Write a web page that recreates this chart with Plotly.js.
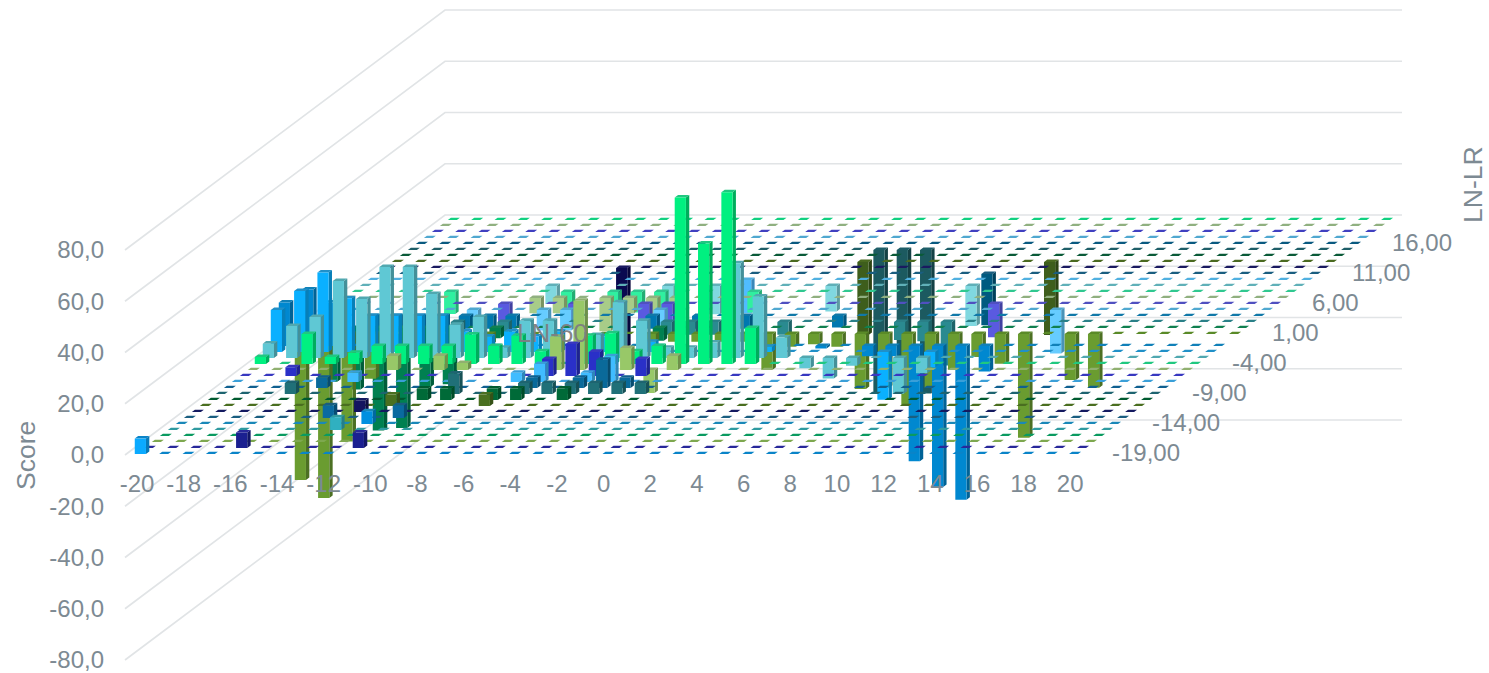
<!DOCTYPE html>
<html>
<head>
<meta charset="utf-8">
<script src="https://cdn.plot.ly/plotly-3.0.1.min.js"></script>
<style>html,body{margin:0;padding:0;background:#fff}#chart{width:1489px;height:673px}</style>
</head>
<body>
<div id="chart"></div>
<script>
// Categories along the two floor axes.
const xValues = [];
for (let v = -20; v <= 20; v++) xValues.push(v);
const xTickValues = [-20,-18,-16,-14,-12,-10,-8,-6,-4,-2,0,2,4,6,8,10,12,14,16,18,20];
const xTickText = xTickValues.map(String);
const scoreTickValues = [-80,-60,-40,-20,0,20,40,60,80];
const scoreTickText = ['-80,0','-60,0','-40,0','-20,0','0,0','20,0','40,0','60,0','80,0'];
const lnLrTickValues = [-19,-14,-9,-4,1,6,11,16];
const lnLrTickText = ['-19,00','-14,00','-9,00','-4,00','1,00','6,00','11,00','16,00'];

// Non-zero scores per LN-LR series, as [x, score].
const lnLrM19 = [[-20,6]];
const lnLrM18 = [[-16,6],[-11,6]];
const lnLrM15 = [[-13,5]];
const lnLrM14 = [[-12,5]];
const lnLrM13 = [[-14,5],[-11,5]];
const lnLrM12 = [[-13,4.5]];
const lnLrM11 = [[-12,4.5],[-8,4.5]];
const lnLrM10 = [[-11,4.5],[-10,4.5],[-8,4.5],[-7,4.5],[-5,4.5]];
const lnLrM9 = [[-17,4.3],[-10,8],[-7,4.3],[-6,4.3],[-5,4.3],[-4,4.3],[-3,4.3],[-2,4.3]];
const lnLrM8 = [[-16,4],[-7,4],[-5,4],[-4,11],[-3,4]];
const lnLrM7 = [[-15,3.6],[-8,3.6],[-7,7],[-5,3.6],[-4,10]];
const lnLrM6 = [[-18,3.4],[-7,6.6],[-6,12.5],[-5,9.4],[-3,6.6]];
const lnLrM5 = [[-14,5.5],[-12,5.5],[-11,2.7],[-7,13],[-6,27],[-4,8.6],[-3,-9],[-2,5.5]];
const lnLrM4 = [[-20,2.7],[-18,11.7],[-17,2.7],[-16,4.4],[-15,7],[-14,7],[-13,7],[-12,7],[-11,11.5],[-10,7],[-9,11],[-8,5],[-6,11],[-5,12],[-4,5],[-3,7],[-2,65],[-1,47],[0,67],[1,14]];
const lnLrM3 = [[-20,5.6],[-19,12.5],[-18,16],[-17,30],[-16,23],[-15,35.5],[-14,35.5],[-13,25],[-12,13],[-11,16],[-10,4],[-9,14.5],[-8,14.5],[-6,9],[-5,21.7],[-4,14.5],[-3,4],[-2,4],[-1,6],[0,37],[1,24],[2,8],[3,-4],[4,-8],[5,-3],[7,-14],[8,-6]];
const lnLrM2 = [[-20,16.4],[-19,23.8],[-18,31],[-17,21],[-16,14],[-15,14],[-14,14],[-13,14],[-12,8],[-11,6],[-10,8],[-9,6],[-8,8],[-6,6],[-4,4],[1,2],[6,-18.6],[8,-6]];
const lnLrM1 = [[-20,17],[-19,22],[-18,17],[3,-1],[5,-4],[6,-4],[7,-45],[8,-55],[9,-60],[10,-10]];
const lnLrP1 = [[-20,-57],[-19,-64],[-18,-42],[-17,-17.5],[-12,-4],[-5,-3],[-4,-3],[-3,-3],[-2,-3],[-1,-3],[0,-14],[1,-5],[2,-4],[3,-5],[4,-21.5],[5,-21],[6,-28],[7,-21],[8,-14],[9,-9],[10,-11.6],[11,-40.5],[13,-18],[14,-21]];
const lnLrP2 = [[-19,-21],[-18,-24],[-17,-40],[-16,-39],[-15,-23],[-14,-22],[-12,-4],[-5,-5]];
const lnLrP3 = [[-14,-8],[-12,-5],[-5,-5],[-4,-5],[-3,-5],[0,-5],[5,-7],[6,-7.5],[7,-17]];
const lnLrP4 = [[-18,-12],[-17,-12],[-16,-12],[-15,-12],[-14,-5],[-13,-5],[-12,-5],[-6,-5],[-4,-5],[-2,-5],[2,-4.5]];
const lnLrP5 = [[-14,-6],[-11,-8],[-10,-8],[-6,-6],[11,-17]];
const lnLrP6 = [[-13,-7],[-10,-7],[-7,-7],[-6,-7],[8,-13]];
const lnLrP7 = [[-12,-6],[-11,-6],[-9,-13],[-8,-6],[-7,-6],[-6,-6]];
const lnLrP8 = [[-16,-8.6],[-11,-8],[-9,-8],[-8,-8],[-7,-8],[-3,-8]];
const lnLrP9 = [[-12,-7],[-7,-7],[-5,-11],[0,-10],[6,-15.6]];
const lnLrP10 = [[-4,-13]];
const lnLrP11 = [[6,-20]];
const lnLrP12 = [[-10,-31]];
const lnLrP13 = [[0,-28.5],[8,-28.5]];
const lnLrP15 = [[0,-56],[1,-56],[2,-56]];

// Series in depth order, nearest the viewer first. LN-LR 0 has no series.
const lnLrSeries = [
  [-19,lnLrM19,'#0AAAFF','#0A84C8'],[-18,lnLrM18,'#1B2090','#28289A'],[-17,[],'#8FC060','#7EA84F'],
  [-16,[],'#00A060','#0A9A60'],[-15,lnLrM15,'#30B0C0','#2F9AA0'],[-14,lnLrM14,'#0090E0','#1A88B8'],
  [-13,lnLrM13,'#0A6AA0','#1A5E80'],[-12,lnLrM12,'#141460','#141A60'],[-11,lnLrM11,'#4A7020','#4A6E20'],
  [-10,lnLrM10,'#006A38','#005A30'],[-9,lnLrM9,'#207078','#1E6470'],[-8,lnLrM8,'#0A6A9A','#106090'],
  [-7,lnLrM7,'#40BCFF','#3A9FD8'],[-6,lnLrM6,'#2A30C8','#3838C0'],[-5,lnLrM5,'#98C868','#90B070'],
  [-4,lnLrM4,'#00F080','#20C880'],[-3,lnLrM3,'#5FC8D4','#50A8B0'],[-2,lnLrM2,'#0AB0FF','#2090C8'],
  [-1,lnLrM1,'#0088D0','#1080B8'],[1,lnLrP1,'#6A9C30','#5A8A28'],[2,lnLrP2,'#008050','#108050'],
  [3,lnLrP3,'#2A8A90','#2A8088'],[4,lnLrP4,'#0078B0','#1078A8'],[5,lnLrP5,'#66CCFF','#50A8D0'],
  [6,lnLrP6,'#5A5AE0','#5050C0'],[7,lnLrP7,'#A8CC88','#90B080'],[8,lnLrP8,'#30F0A0','#30C890'],
  [9,lnLrP9,'#80D8E0','#60B0B8'],[10,lnLrP10,'#50BCFF','#50B0E0'],[11,lnLrP11,'#005A80','#1A5E80'],
  [12,lnLrP12,'#0A0A50','#1A1A60'],[13,lnLrP13,'#3E5E1C','#4A6A20'],[14,[],'#005030','#0A5A38'],
  [15,lnLrP15,'#1C5A60','#1E5E68'],[16,[],'#005070','#0A5A80'],[17,[],'#66CCFF','#50A8D0'],
  [18,[],'#5A5AE0','#4040C0'],[19,[],'#A8CC88','#90B080'],[20,[],'#10E090','#10D080']
];

const textColor = '#7D8A93';
const wallColor = '#E1E4E6';

// Oblique depth: each LN-LR step moves a mark right and up on the plot's axes.
const pxPerX = 23.33, pxPerScore = 2.5625;
const leftPx = 139;
const depthX = 8 / pxPerX, depthY = 6 / pxPerScore;
function project(x, depth, score) {
  return [x + depth * depthX, score + depth * depthY];
}
const depthOf = lnLr => lnLr + 19 + 0.17;

function polygon(points) {
  const xs = [], ys = [];
  points.concat([points[0]]).forEach(p => { const q = project(p[0], p[1], p[2]); xs.push(q[0]); ys.push(q[1]); });
  xs.push(null); ys.push(null);
  return [xs, ys];
}
function shade(hex, k) {
  const n = parseInt(hex.slice(1), 16);
  const c = [n >> 16, (n >> 8) & 255, n & 255].map(v => Math.round(v * k));
  return 'rgb(' + c.join(',') + ')';
}
function fillTrace(polys, color) {
  const x = [], y = [];
  polys.forEach(p => { x.push(...p[0]); y.push(...p[1]); });
  return { type: 'scatter', mode: 'lines', x, y, fill: 'toself', fillcolor: color,
           line: { width: 0, color }, hoverinfo: 'skip', showlegend: false };
}

const traces = [];

// Grid lines on the left and back walls.
const wallX = [], wallY = [];
const wallLeftX = -20 - 14 / pxPerX, wallRightX = -20 + 943 / pxPerX;
scoreTickValues.forEach(s => {
  [[wallLeftX, 0, s], [wallLeftX, 40, s], [wallRightX, 40, s]].forEach(p => {
    const q = project(p[0], p[1], p[2]); wallX.push(q[0]); wallY.push(q[1]);
  });
  wallX.push(null); wallY.push(null);
});
traces.push({ type: 'scatter', mode: 'lines', x: wallX, y: wallY, line: { color: wallColor, width: 1.7 },
              hoverinfo: 'skip', showlegend: false });

// Columns, drawn from the back series to the front one.
const halfW = 5.6 / pxPerX, barDepth = 0.42, dashHalf = 4.5 / pxPerX, dashDepth = 0.38;
lnLrSeries.slice().reverse().forEach(row => {
  const lnLr = row[0], bars = row[1], front = row[2], top = row[3];
  const d = depthOf(lnLr);
  const occupied = new Set(bars.map(b => b[0]));
  const dashes = xValues.filter(x => !occupied.has(x)).map(x => polygon([
    [x - dashHalf, d, 0], [x + dashHalf, d, 0], [x + dashHalf, d + dashDepth, 0], [x - dashHalf, d + dashDepth, 0]
  ]));
  traces.push(fillTrace(dashes, top));
  if (!bars.length) return;
  const fronts = [], sides = [], tops = [];
  bars.forEach(b => {
    const x = b[0], s = b[1], cap = Math.max(s, 0);
    sides.push(polygon([[x + halfW, d, 0], [x + halfW, d + barDepth, 0], [x + halfW, d + barDepth, s], [x + halfW, d, s]]));
    tops.push(polygon([[x - halfW, d, cap], [x + halfW, d, cap], [x + halfW, d + barDepth, cap], [x - halfW, d + barDepth, cap]]));
    fronts.push(polygon([[x - halfW, d, 0], [x + halfW, d, 0], [x + halfW, d, s], [x - halfW, d, s]]));
  });
  traces.push(fillTrace(sides, shade(front, 0.72)));
  traces.push(fillTrace(tops, top));
  traces.push(fillTrace(fronts, front));
});

const axisFont = { family: 'Liberation Sans, Arial, sans-serif', size: 24, color: textColor };

const annotations = lnLrTickValues.map((v, i) => {
  const q = project(20 + 37.5 / pxPerX, v + 19, 0.8);
  return { xref: 'x', yref: 'y', x: q[0], y: q[1], text: lnLrTickText[i], showarrow: false,
           xanchor: 'left', yanchor: 'middle', font: axisFont };
});
annotations.push({ xref: 'paper', yref: 'paper', x: 26 / 1489, y: 1 - 456 / 673, text: 'Score', textangle: -90,
                   showarrow: false, xanchor: 'center', yanchor: 'middle',
                   font: { family: axisFont.family, size: 26.5, color: textColor } });
annotations.push({ xref: 'paper', yref: 'paper', x: 1473 / 1489, y: 1 - 185 / 673, text: 'LN-LR', textangle: -90,
                   showarrow: false, xanchor: 'center', yanchor: 'middle',
                   font: { family: axisFont.family, size: 26.5, color: textColor } });
annotations.push({ xref: 'paper', yref: 'paper', x: 552 / 1489, y: 1 - 333 / 673, text: 'LN-60',
                   showarrow: false, xanchor: 'center', yanchor: 'middle',
                   font: { family: axisFont.family, size: 26, color: 'rgba(125,125,130,0.95)' } });

const layout = {
  width: 1489, height: 673,
  margin: { l: 0, r: 0, t: 0, b: 0, pad: 0 },
  paper_bgcolor: '#fff', plot_bgcolor: '#fff',
  showlegend: false,
  xaxis: {
    range: [-20 - leftPx / pxPerX, -20 + (1489 - leftPx) / pxPerX], fixedrange: true,
    anchor: 'free', position: 0.3055, showgrid: false, zeroline: false, showline: false, ticks: '',
    tickmode: 'array', tickvals: xTickValues, ticktext: xTickText, tickfont: axisFont,
    ticklabelshift: -2, tickangle: 0, ticklabeloverflow: 'allow'
  },
  yaxis: {
    range: [-(673 - 455) / pxPerScore, 455 / pxPerScore], fixedrange: true,
    anchor: 'free', position: 104 / 1489, showgrid: false, zeroline: false, showline: false, ticks: '',
    tickmode: 'array', tickvals: scoreTickValues, ticktext: scoreTickText, tickfont: axisFont,
    ticklabeloverflow: 'allow'
  },
  annotations
};

Plotly.newPlot('chart', traces, layout, { displayModeBar: false, staticPlot: true });
</script>
</body>
</html>
